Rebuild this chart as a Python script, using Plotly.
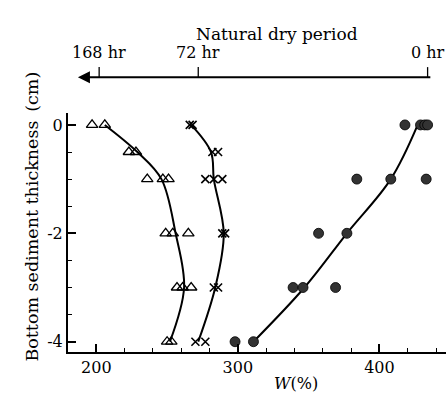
import plotly.graph_objects as go

# measured points (W %) and depth (cm)
tri_w = [197, 206, 223, 228, 236, 247, 251, 249, 254, 265, 257, 261, 267, 250, 253]
tri_d = [0, 0, -0.5, -0.5, -1, -1, -1, -2, -2, -2, -3, -3, -3, -4, -4]

crs_w = [266, 268, 282, 286, 277, 283, 289, 289, 291, 283, 286, 270, 277]
crs_d = [0, 0, -0.5, -0.5, -1, -1, -1, -2, -2, -3, -3, -4, -4]

cir_w = [418, 429, 432, 434, 384, 408, 433, 357, 377, 339, 346, 369, 298, 311]
cir_d = [0, 0, 0, 0, -1, -1, -1, -2, -2, -3, -3, -3, -4, -4]

# fitted curves
tri_curve_w = [206, 229, 246, 256, 262, 252]
tri_curve_d = [0, -0.5, -1, -2, -3, -4]
crs_curve_w = [267, 281, 283, 290, 284, 272]
crs_curve_d = [0, -0.5, -1, -2, -3, -4]
cir_curve_w = [427, 408, 377, 347, 311]
cir_curve_d = [0, -1, -2, -3, -4]

# top "natural dry period" axis
dry_labels = ["168 hr", "72 hr", "0 hr"]
dry_pos_w = [202, 272, 434]
arrow_from_w, arrow_to_w = 437, 187

x_ticks = [200, 300, 400]
y_ticks = [0, -2, -4]
y_ticktext = ["0", "-2", "-4"]

FONT = "DejaVu Serif"
FS = 16
fig = go.Figure()

for cw, cd in [(tri_curve_w, tri_curve_d), (crs_curve_w, crs_curve_d), (cir_curve_w, cir_curve_d)]:
    fig.add_trace(go.Scatter(x=cw, y=cd, mode="lines", line=dict(color="black", width=2, shape="spline", smoothing=1.0),
                             showlegend=False, hoverinfo="skip"))

fig.add_trace(go.Scatter(x=tri_w, y=tri_d, mode="markers", showlegend=False,
                         marker=dict(symbol="triangle-up-open", size=10, color="black", line=dict(width=1.3, color="black"))))
fig.add_trace(go.Scatter(x=crs_w, y=crs_d, mode="markers", showlegend=False,
                         marker=dict(symbol="x-thin", size=8, color="black", line=dict(width=1.6, color="black"))))
fig.add_trace(go.Scatter(x=cir_w, y=cir_d, mode="markers", showlegend=False,
                         marker=dict(symbol="circle", size=10, color="#333333", line=dict(width=0.8, color="black"))))

shapes = []
annotations = []
ARROW_Y = 1.15
annotations.append(dict(x=arrow_to_w, y=ARROW_Y, xref="x", yref="paper", ax=arrow_from_w, ay=0,
                        axref="x", ayref="pixel", showarrow=True, arrowhead=2, arrowsize=1.2,
                        arrowwidth=2, arrowcolor="black", text=""))
for lab, w in zip(dry_labels, dry_pos_w):
    shapes.append(dict(type="line", xref="x", yref="paper", x0=w, x1=w, y0=ARROW_Y, y1=ARROW_Y + 0.042,
                       line=dict(color="black", width=1.3)))
    annotations.append(dict(x=w, y=1.205, xref="x", yref="paper", yanchor="bottom", text=lab, showarrow=False,
                            font=dict(family=FONT, size=FS, color="black")))
annotations.append(dict(x=0.553, y=1.38, xref="paper", yref="paper", text="Natural dry period", showarrow=False,
                        font=dict(family=FONT, size=17, color="black")))
annotations.append(dict(x=-0.128, y=0.565, xref="paper", yref="paper", text="Bottom sediment thickness\u2002(cm)",
                        textangle=-90, showarrow=False, font=dict(family=FONT, size=17.5, color="black")))
annotations.append(dict(x=0.667, y=-0.18, xref="paper", yref="paper", text="<i>W</i>(%)", showarrow=False,
                        font=dict(family=FONT, size=FS, color="black")))

fig.update_layout(
    width=446, height=407,
    margin=dict(l=68, r=0, t=113, b=55),
    plot_bgcolor="white", paper_bgcolor="white",
    shapes=shapes, annotations=annotations,
    font=dict(family=FONT, size=FS, color="black"),
    xaxis=dict(range=[180, 447], tickvals=x_ticks, ticks="inside", ticklen=8, tickwidth=1.5, tickcolor="black",
               showline=True, linecolor="black", linewidth=2, showgrid=False, zeroline=False,
               minor=dict(dtick=20, tick0=0, ticks="inside", ticklen=4, tickcolor="black", tickwidth=1),
               tickfont=dict(family=FONT, size=FS)),
    yaxis=dict(range=[-4.19, 0.22], tickvals=y_ticks, ticktext=y_ticktext, ticks="inside",
               ticklen=8, tickwidth=1.5, tickcolor="black",
               showline=True, linecolor="black", linewidth=2, showgrid=False, zeroline=False,
               minor=dict(dtick=0.5, tick0=0, ticks="inside", ticklen=4, tickcolor="black", tickwidth=1),
               tickfont=dict(family=FONT, size=FS)),
)

fig.write_html("out.html")
